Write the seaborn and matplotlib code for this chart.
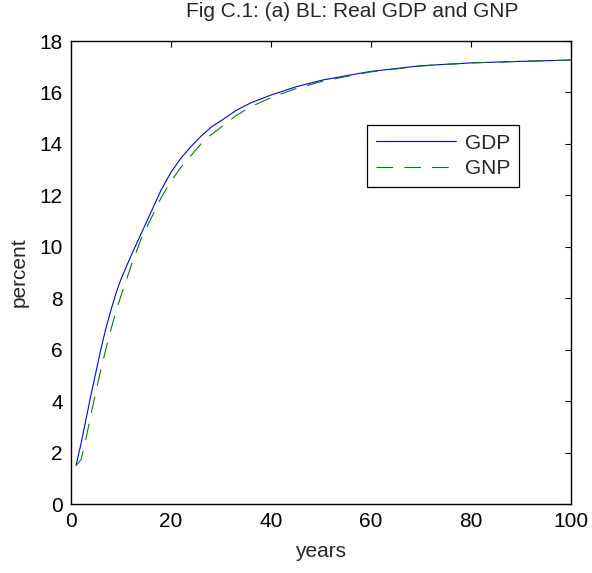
import numpy as np
import pandas as pd
import matplotlib
matplotlib.use("Agg")
import matplotlib.pyplot as plt
import seaborn as sns

# values
years = [1, 2, 3, 4, 5, 6, 7, 8, 9, 10, 12, 14, 16, 18, 20, 22, 24, 26, 28, 30,
         33, 36, 40, 45, 50, 55, 60, 70, 80, 90, 100]
gdp = [1.5, 2.35, 3.3, 4.25, 5.15, 6.05, 6.85, 7.55, 8.2, 8.75, 9.65, 10.5, 11.35, 12.2,
       12.9, 13.45, 13.9, 14.3, 14.65, 14.9, 15.3, 15.6, 15.9, 16.22, 16.47, 16.65,
       16.82, 17.04, 17.15, 17.21, 17.26]
gnp = [1.5, 1.72, 2.55, 3.5, 4.4, 5.25, 6.05, 6.8, 7.5, 8.1, 9.25, 10.3, 11.1, 11.9,
       12.55, 13.1, 13.55, 14.0, 14.35, 14.65, 15.1, 15.45, 15.8, 16.15, 16.42, 16.62,
       16.8, 17.03, 17.15, 17.21, 17.26]

sns.set_style("white")
plt.rcParams["font.family"] = ["Liberation Sans", "DejaVu Sans"]
plt.rcParams["font.size"] = 15

df = pd.DataFrame({"years": years, "GDP": gdp, "GNP": gnp})

fig = plt.figure(figsize=(5.92, 5.73), dpi=100)
ax = fig.add_axes([0.12, 0.1204, 0.8445, 0.808])

sns.lineplot(data=df, x="years", y="GDP", ax=ax, color="#0000ff", lw=0.8, label="GDP")
sns.lineplot(data=df, x="years", y="GNP", ax=ax, color="#008000", lw=0.8,
             linestyle=(0, (15, 10)), label="GNP")

ax.set_xlim(0, 100)
ax.set_ylim(0, 18)
ax.set_xticks(np.arange(0, 101, 20))
ax.set_yticks(np.arange(0, 19, 2))
ax.tick_params(direction="in", length=4, width=0.8, top=True, right=True,
               labelsize=15, colors="black", pad=6)
for s in ax.spines.values():
    s.set_color("black")
    s.set_linewidth(1.0)

ax.set_title("Fig C.1: (a) BL: Real GDP and GNP", fontsize=15, pad=17, x=0.562)
ax.set_xlabel("years", fontsize=15, labelpad=8)
ax.set_ylabel("percent", fontsize=15, labelpad=8)

leg = ax.legend(loc="upper left", bbox_to_anchor=(0.592, 0.819), fontsize=15,
                handlelength=3.85, fancybox=False, framealpha=1, borderpad=0.42,
                labelspacing=0.33, handletextpad=0.45, borderaxespad=0)
leg.get_frame().set_edgecolor("black")
leg.get_frame().set_linewidth(0.9)

fig.savefig("out.png", dpi=100)
